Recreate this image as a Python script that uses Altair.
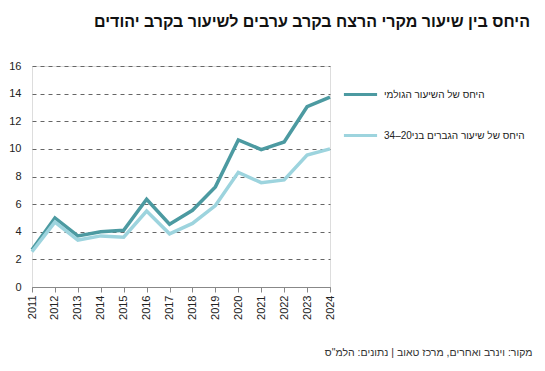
import altair as alt
import pandas as pd

years = [2011, 2012, 2013, 2014, 2015, 2016, 2017, 2018, 2019, 2020, 2021, 2022, 2023, 2024]
crude = [2.7, 5.0, 3.7, 4.0, 4.1, 6.35, 4.55, 5.55, 7.25, 10.65, 9.95, 10.5, 13.05, 13.75]
men_20_34 = [2.55, 4.7, 3.4, 3.7, 3.6, 5.5, 3.85, 4.6, 5.9, 8.3, 7.55, 7.75, 9.55, 10.0]

series_names = ["היחס של השיעור הגולמי", "היחס של שיעור הגברים בני20–34"]
colors = ["#4c9aa1", "#9dd4de"]
title_text = "היחס בין שיעור מקרי הרצח בקרב ערבים לשיעור בקרב יהודים"
source_text = 'מקור: וינרב ואחרים, מרכז טאוב | נתונים: הלמ"ס'

rows = []
for s, vals in zip(series_names, [crude, men_20_34]):
    for y, v in zip(years, vals):
        rows.append({"year": y, "value": v, "series": s})
df = pd.DataFrame(rows)

FONT = "Liberation Sans"

chart = alt.Chart(df).mark_line(strokeWidth=3.5).encode(
    x=alt.X("year:O", title=source_text,
            axis=alt.Axis(labelAngle=-90, labelFontSize=11, labelColor="#222",
                          labelPadding=3, tickSize=5, tickColor="#888",
                          domainColor="#888", grid=False,
                          titleFontSize=10.5, titleFont=FONT, titleFontWeight="normal",
                          titleColor="#333", titleAnchor="end", titleAlign="right",
                          titleX=500, titleY=65, titleBaseline="middle"),
            scale=alt.Scale(paddingOuter=0, paddingInner=0, padding=0)),
    y=alt.Y("value:Q", title=None,
            scale=alt.Scale(domain=[0, 16]),
            axis=alt.Axis(values=[0, 2, 4, 6, 8, 10, 12, 14, 16], domain=False, ticks=False,
                          labelPadding=11, labelFontSize=11, labelColor="#222",
                          grid=True, gridDash=[4, 4], gridColor="#666", gridWidth=1)),
    color=alt.Color("series:N", sort=series_names,
                    scale=alt.Scale(domain=series_names, range=colors),
                    legend=alt.Legend(title=None, orient="none", legendX=310, legendY=10,
                                      symbolType="stroke", symbolSize=1100, symbolStrokeWidth=3,
                                      labelFontSize=10, labelFont=FONT, labelColor="#222",
                                      labelOffset=5, labelLimit=300, rowPadding=16, padding=0)),
    order=alt.Order("year:O"),
).properties(
    width=298, height=221,
    padding={"left": 24, "top": 58, "right": 205, "bottom": 76},
    autosize=alt.AutoSizeParams(type="none"),
    title=alt.TitleParams(title_text, anchor="end", frame="group", dx=200, dy=-26,
                          fontSize=16, font=FONT, fontWeight="bold", color="#111"),
).configure_view(stroke=None).configure(font=FONT)

chart.save("out.html", embed_options={"renderer": "svg", "actions": False})
